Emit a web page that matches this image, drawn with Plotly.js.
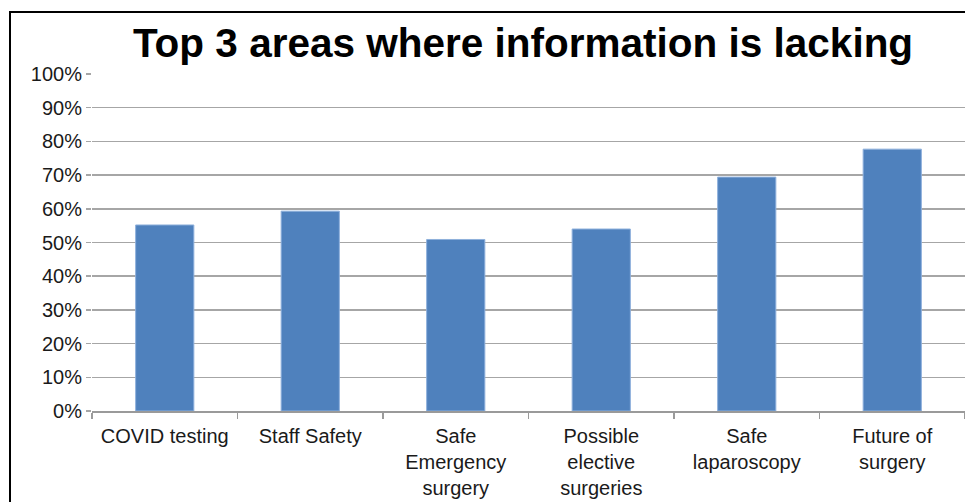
<!DOCTYPE html>
<html>
<head>
<meta charset="utf-8">
<script src="https://cdn.plot.ly/plotly-3.0.1.min.js"></script>
<style>
html,body{margin:0;padding:0;background:#fff;}
#chart{position:absolute;left:0;top:0;width:965px;height:502px;}
#frame{position:absolute;left:9px;top:11px;width:970px;height:500px;border-left:2px solid #000;border-top:2px solid #000;pointer-events:none;}
</style>
</head>
<body>
<div id="chart"></div>
<div id="frame"></div>
<script>
const categories = ["COVID testing", "Staff Safety", "Safe<br>Emergency<br>surgery", "Possible<br>elective<br>surgeries", "Safe<br>laparoscopy", "Future of<br>surgery"];
const values = [0.552, 0.593, 0.509, 0.54, 0.694, 0.777];
const yTickVals = [0, 0.1, 0.2, 0.3, 0.4, 0.5, 0.6, 0.7, 0.8, 0.9, 1.0];
const yTickText = ["0%", "10%", "20%", "30%", "40%", "50%", "60%", "70%", "80%", "90%", "100%"];
const titleText = "Top 3 areas where information is lacking";

const trace = {
  type: "bar",
  x: categories,
  y: values,
  marker: {color: "#4f81bd", line: {color: "#8eb0dc", width: 1}},
  hoverinfo: "none"
};

const layout = {
  width: 965,
  height: 502,
  margin: {l: 92, r: 0, t: 74, b: 91, pad: 0},
  paper_bgcolor: "#ffffff",
  plot_bgcolor: "#ffffff",
  bargap: 0.6,
  showlegend: false,
  font: {family: "Liberation Sans, Arial, sans-serif", color: "#1a1a1a"},
  title: {
    text: "<b>" + titleText + "</b>",
    font: {family: "Liberation Sans, Arial, sans-serif", size: 40.5, color: "#000"},
    x: 523 / 965, xanchor: "center", xref: "container",
    y: 1 - 43 / 502, yanchor: "middle", yref: "container"
  },
  xaxis: {
    type: "category",
    showgrid: false,
    showline: true,
    linecolor: "#9a9a9a",
    linewidth: 1.5,
    ticks: "outside",
    tickson: "boundaries",
    ticklen: 6,
    tickcolor: "#9a9a9a",
    tickwidth: 1.5,
    ticklabelstandoff: 6,
    tickfont: {size: 20, color: "#1a1a1a"},
    fixedrange: true
  },
  yaxis: {
    range: [0, 1.0],
    tickvals: yTickVals,
    ticktext: yTickText,
    showgrid: true,
    gridcolor: "#a6a6a6",
    gridwidth: 1.5,
    zeroline: false,
    showline: false,
    ticks: "outside",
    ticklen: 5,
    tickcolor: "#a6a6a6",
    tickwidth: 1.5,
    tickfont: {size: 20, color: "#1a1a1a"},
    fixedrange: true
  }
};

Plotly.newPlot("chart", [trace], layout, {displayModeBar: false, staticPlot: true});
</script>
</body>
</html>
